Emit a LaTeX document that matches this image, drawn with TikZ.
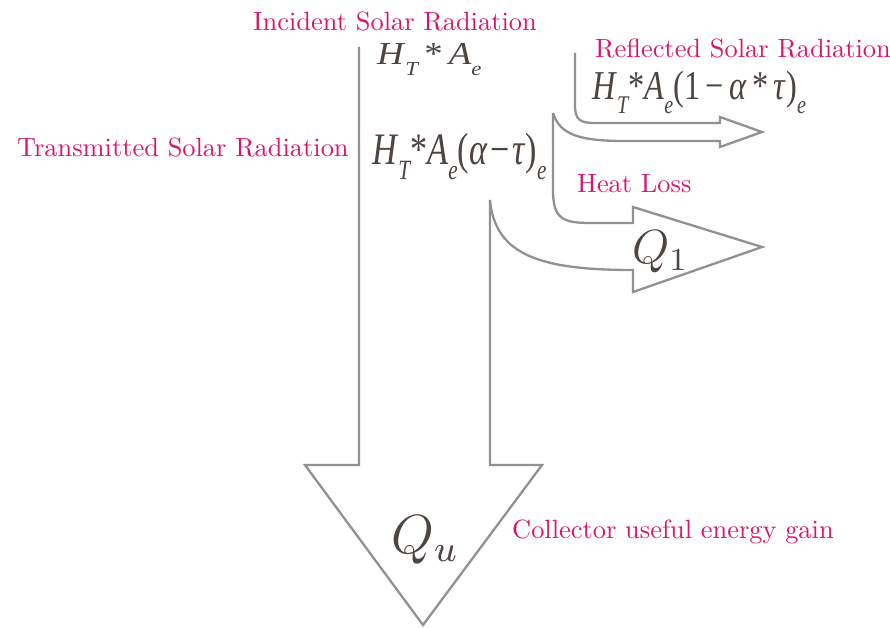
\documentclass[tikz,border=0pt]{standalone}
\usepackage{fontspec}
\usepackage{graphicx}
\newfontfamily\lmten{lmroman10-regular.otf}
\newfontfamily\fml{Liberation Serif}
\definecolor{lblcol}{RGB}{215,22,110}
\definecolor{fcol}{RGB}{78,68,64}
\definecolor{edgecol}{RGB}{145,145,145}
\newcommand\fsub[1]{\raisebox{-0.32em}{\scalebox{0.62}{\itshape #1}}}
\begin{document}
\begin{tikzpicture}[x=1pt,y=-1pt,
  lbl/.style={text=lblcol, font=\lmten\fontsize{26.4}{30}\selectfont, inner sep=0, anchor=base west},
  frm/.style={text=fcol, inner sep=0, anchor=base west},
  flow/.style={draw=edgecol, line width=2.3pt, line join=miter}]
\useasboundingbox (0,0) rectangle (890,628);

% main downward arrow (useful gain)
\draw[flow] (359,47) -- (359,465) -- (305,465) -- (423,625) -- (542,465) -- (490,465) -- (490,200);
% heat loss arrow Q1
\draw[flow] (490,200) .. controls (495,255) and (540,270) .. (633,270) -- (633,292) -- (762,247)
  -- (633,207) -- (633,223) -- (590,223) .. controls (562,223) and (553,218) .. (553,190) -- (553,113);
% reflected arrow
\draw[flow] (553,113) .. controls (560,135) and (580,141) .. (625,141) -- (720,141) -- (720,147)
  -- (762,132) -- (720,117) -- (720,123) -- (595,123) .. controls (580,123) and (575,120) .. (575,105) -- (575,53);

% labels
\node[lbl] (inc) at (253,31) {Incident Solar Radiation};
\node[lbl] (tra) at (17,157) {Transmitted Solar Radiation};
\node[lbl] (ref) at (595,58) {Reflected Solar Radiation};
\node[lbl] (hl) at (577,193) {Heat Loss};
\node[lbl] (col) at (512,538) {Collector useful energy gain};

% formulas
\node[frm] (f1) at (377,65) {\scalebox{1.15}[1]{\fml\fontsize{32}{32}\selectfont \textit{H}\fsub{T}\,*\,\textit{A}\fsub{e}}};
\node[frm] (f2) at (372,165) {\scalebox{0.76}[1]{\fml\fontsize{45}{45}\selectfont \textit{H}\fsub{T}*\textit{A}\fsub{e}(\textit{α}\kern0.08em−\kern0.08em\textit{τ})\fsub{e}}};
\node[frm] (f3) at (592,100) {\scalebox{0.79}[1]{\fml\fontsize{41}{41}\selectfont \textit{H}\fsub{T}*\textit{A}\fsub{e}(1\,−\,\textit{α}\,*\,\textit{τ})\fsub{e}}};

\node[frm] (q1) at (632,263) {\fontsize{12}{12}\selectfont\scalebox{4}{$Q_1$}};
\node[frm] (qu) at (391,553) {\fontsize{12}{12}\selectfont\scalebox{4.6}{$Q_u$}};
\end{tikzpicture}
\end{document}
